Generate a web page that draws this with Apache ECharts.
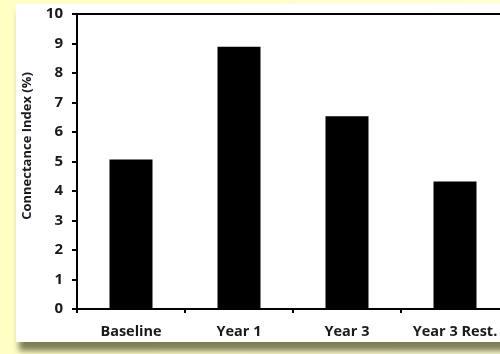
<!DOCTYPE html>
<html>
<head>
<meta charset="utf-8">
<script src="https://cdn.jsdelivr.net/npm/echarts@6/dist/echarts.min.js"></script>
<style>html,body{margin:0;padding:0;background:#FFFFC6;}#c{width:500px;height:354px;}</style>
</head>
<body>
<div id="c"></div>
<script>
const categories = ['Baseline', 'Year 1', 'Year 3', 'Year 3 Rest.'];
const values = [5.07, 8.89, 6.53, 4.32];
const yTicks = [0, 1, 2, 3, 4, 5, 6, 7, 8, 9, 10];
const yName = 'Connectance Index (%)';

const chart = echarts.init(document.getElementById('c'), null, {renderer: 'canvas'});
const font = '"Open Sans", sans-serif';
chart.setOption({
  backgroundColor: {
    type: 'linear', x: 0, y: 0, x2: 1, y2: 0,
    colorStops: [{offset: 0, color: '#FFFFC4'}, {offset: 1, color: '#FFFFD6'}]
  },
  graphic: [
    {type: 'rect', z: -10, shape: {x: 16, y: 4, width: 520, height: 338},
     style: {fill: '#ffffff', shadowBlur: 6, shadowColor: 'rgba(120,120,80,0.95)', shadowOffsetY: 9, shadowOffsetX: 3}},
    {type: 'text', rotation: Math.PI / 2, x: 27, y: 146,
     style: {text: yName, font: 'bold 13px ' + font, fill: '#1a1a1a', textAlign: 'center', textVerticalAlign: 'middle'}}
  ],
  grid: {left: 77, right: -9, top: 14, bottom: 45, outerBoundsMode: 'none', containLabel: false,
    show: true, borderColor: '#000', borderWidth: 2, backgroundColor: 'transparent'},
  xAxis: {
    type: 'category', data: categories,
    axisLine: {lineStyle: {color: '#000', width: 2}},
    axisTick: {show: true, interval: 0, length: 4, lineStyle: {color: '#000', width: 2}},
    axisLabel: {interval: 0, hideOverlap: false, color: '#1a1a1a', fontFamily: font, fontWeight: 'bold', fontSize: 14.5, margin: 15}
  },
  yAxis: {
    type: 'value', min: 0, max: 10, interval: 1,
    axisLine: {show: true, lineStyle: {color: '#000', width: 2}},
    axisTick: {show: true, length: 5, lineStyle: {color: '#000', width: 2}},
    splitLine: {show: false},
    axisLabel: {color: '#1a1a1a', fontFamily: font, fontWeight: 'bold', fontSize: 15, margin: 14,
      formatter: v => yTicks.includes(v) ? String(v) : ''}
  },
  series: [{
    type: 'bar', data: values, barWidth: 43,
    itemStyle: {color: '#000'}, animation: false
  }],
  animation: false
});
</script>
</body>
</html>
